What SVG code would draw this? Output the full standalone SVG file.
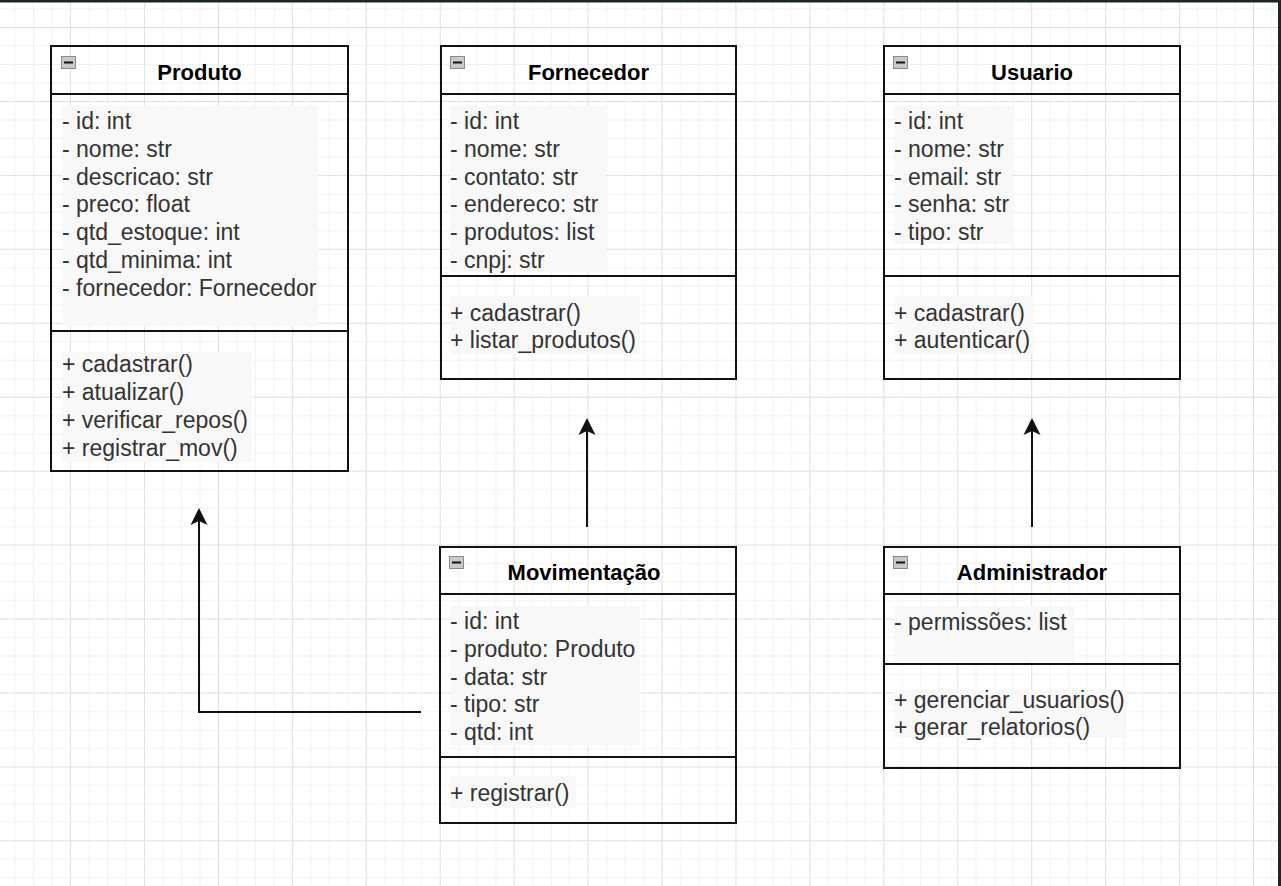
<svg xmlns="http://www.w3.org/2000/svg" width="1281" height="886" viewBox="0 0 1281 886">
<style>
.box{fill:none;stroke:#111;stroke-width:2}
.sep{stroke:#111;stroke-width:2}
.t{font-family:"Liberation Sans",Arial,sans-serif;font-size:23px;fill:#333}
.h{font-family:"Liberation Sans",Arial,sans-serif;font-size:22px;font-weight:bold;fill:#000;text-anchor:middle}
.bg{fill:#f8f8f8}
.icon{fill:#c9c9c9;stroke:#8a8a8a;stroke-width:1}
.minus{stroke:#111;stroke-width:2}
.edge{fill:none;stroke:#111;stroke-width:2}
</style>
<defs>
<pattern id="grid" patternUnits="userSpaceOnUse" x="70" y="27" width="73.94" height="73.94">
<rect x="18.48" y="0" width="1" height="73.94" fill="#f1f1f1"/>
<rect x="36.97" y="0" width="1" height="73.94" fill="#f1f1f1"/>
<rect x="55.45" y="0" width="1" height="73.94" fill="#f1f1f1"/>
<rect x="0" y="18.48" width="73.94" height="1" fill="#f1f1f1"/>
<rect x="0" y="36.97" width="73.94" height="1" fill="#f1f1f1"/>
<rect x="0" y="55.45" width="73.94" height="1" fill="#f1f1f1"/>
<rect x="0" y="0" width="1" height="73.94" fill="#dfdfdf"/>
<rect x="0" y="0" width="73.94" height="1" fill="#dfdfdf"/>
</pattern>
<g id="ic"><rect class="icon" x="0.5" y="0.5" width="14" height="12"/><line class="minus" x1="3" y1="6.5" x2="12" y2="6.5"/></g>
</defs>
<rect x="0" y="0" width="1281" height="886" fill="#fff"/>
<rect x="0" y="0" width="1281" height="886" fill="url(#grid)"/>
<rect x="0" y="0" width="1281" height="2.5" fill="#1c2528"/>
<rect x="1278" y="0" width="3" height="886" fill="#1c2528"/>

<g id="connectors">
<path class="edge" d="M421,712 H199 V512"/>
<path d="M199,508 L190.5,525 L199,521 L207.5,525 Z" fill="#111"/>
<path class="edge" d="M587,527 V422"/>
<path d="M587,418 L578.5,435 L587,431 L595.5,435 Z" fill="#111"/>
<path class="edge" d="M1032,527 V422"/>
<path d="M1032,418 L1023.5,435 L1032,431 L1040.5,435 Z" fill="#111"/>
</g>

<g id="produto">
<rect class="bg" x="62" y="106" width="256" height="220"/>
<rect class="bg" x="62" y="352" width="190" height="110"/>
<rect class="box" x="51" y="46" width="297" height="425"/>
<line class="sep" x1="51" y1="94" x2="348" y2="94"/>
<line class="sep" x1="51" y1="331" x2="348" y2="331"/>
<use href="#ic" x="61" y="56"/>
<text class="h" x="199.5" y="80">Produto</text>
<text class="t" x="62" y="129">- id: int</text>
<text class="t" x="62" y="157">- nome: str</text>
<text class="t" x="62" y="185">- descricao: str</text>
<text class="t" x="62" y="212">- preco: float</text>
<text class="t" x="62" y="240">- qtd_estoque: int</text>
<text class="t" x="62" y="268">- qtd_minima: int</text>
<text class="t" x="62" y="296">- fornecedor: Fornecedor</text>
<text class="t" x="62" y="372">+ cadastrar()</text>
<text class="t" x="62" y="400">+ atualizar()</text>
<text class="t" x="62" y="428">+ verificar_repos()</text>
<text class="t" x="62" y="456">+ registrar_mov()</text>
</g>

<g id="fornecedor">
<rect class="bg" x="450" y="106" width="156" height="166"/>
<rect class="bg" x="450" y="296" width="190" height="58"/>
<rect class="box" x="441" y="46" width="295" height="333"/>
<line class="sep" x1="441" y1="94" x2="736" y2="94"/>
<line class="sep" x1="441" y1="276" x2="736" y2="276"/>
<use href="#ic" x="450" y="56"/>
<text class="h" x="588.5" y="80">Fornecedor</text>
<text class="t" x="450" y="129">- id: int</text>
<text class="t" x="450" y="157">- nome: str</text>
<text class="t" x="450" y="185">- contato: str</text>
<text class="t" x="450" y="212">- endereco: str</text>
<text class="t" x="450" y="240">- produtos: list</text>
<text class="t" x="450" y="268">- cnpj: str</text>
<text class="t" x="450" y="321">+ cadastrar()</text>
<text class="t" x="450" y="348">+ listar_produtos()</text>
</g>

<g id="usuario">
<rect class="bg" x="894" y="106" width="118" height="138"/>
<rect class="bg" x="894" y="296" width="140" height="58"/>
<rect class="box" x="884" y="46" width="296" height="333"/>
<line class="sep" x1="884" y1="94" x2="1180" y2="94"/>
<line class="sep" x1="884" y1="276" x2="1180" y2="276"/>
<use href="#ic" x="893" y="56"/>
<text class="h" x="1032" y="80">Usuario</text>
<text class="t" x="894" y="129">- id: int</text>
<text class="t" x="894" y="157">- nome: str</text>
<text class="t" x="894" y="185">- email: str</text>
<text class="t" x="894" y="212">- senha: str</text>
<text class="t" x="894" y="240">- tipo: str</text>
<text class="t" x="894" y="321">+ cadastrar()</text>
<text class="t" x="894" y="348">+ autenticar()</text>
</g>

<g id="movimentacao">
<rect class="bg" x="450" y="606" width="190" height="140"/>
<rect class="bg" x="450" y="776" width="126" height="32"/>
<rect class="box" x="440" y="547" width="296" height="276"/>
<line class="sep" x1="440" y1="594" x2="736" y2="594"/>
<line class="sep" x1="440" y1="757" x2="736" y2="757"/>
<use href="#ic" x="449" y="556"/>
<text class="h" x="584" y="580">Movimentação</text>
<text class="t" x="450" y="629">- id: int</text>
<text class="t" x="450" y="657">- produto: Produto</text>
<text class="t" x="450" y="685">- data: str</text>
<text class="t" x="450" y="712">- tipo: str</text>
<text class="t" x="450" y="740">- qtd: int</text>
<text class="t" x="450" y="801">+ registrar()</text>
</g>

<g id="administrador">
<rect class="bg" x="894" y="606" width="181" height="56"/>
<rect class="bg" x="894" y="690" width="233" height="48"/>
<rect class="box" x="884" y="547" width="296" height="221"/>
<line class="sep" x1="884" y1="594" x2="1180" y2="594"/>
<line class="sep" x1="884" y1="664" x2="1180" y2="664"/>
<use href="#ic" x="893" y="556"/>
<text class="h" x="1032" y="580">Administrador</text>
<text class="t" x="894" y="630">- permissões: list</text>
<text class="t" x="894" y="708">+ gerenciar_usuarios()</text>
<text class="t" x="894" y="735">+ gerar_relatorios()</text>
</g>
</svg>
